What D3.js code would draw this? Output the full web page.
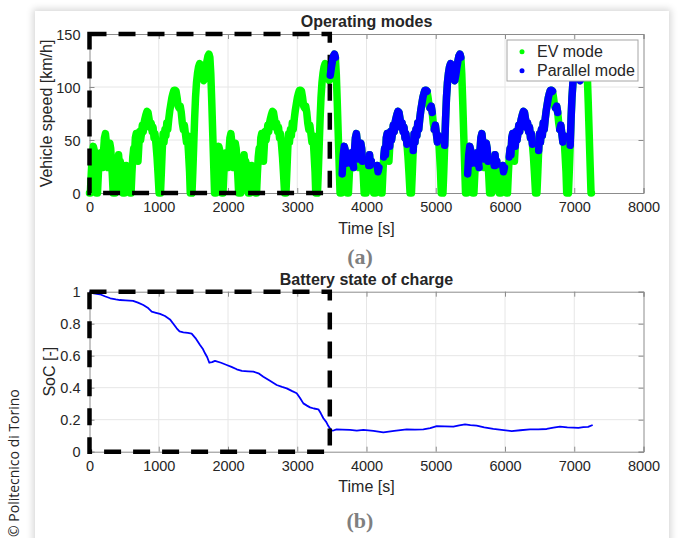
<!DOCTYPE html>
<html><head><meta charset="utf-8">
<script src="https://cdn.jsdelivr.net/npm/d3@7"></script>
<style>
html,body{margin:0;padding:0;background:#fff;width:678px;height:538px;overflow:hidden;}
#card{position:absolute;left:35px;top:11px;width:634px;height:560px;background:#fff;box-shadow:0 0 7px 2px rgba(0,0,0,0.16);}
svg{position:absolute;left:0;top:0;}
text{font-family:"Liberation Sans",Arial,sans-serif;fill:#262626;}
</style></head><body><div id="card"></div><svg id="chart" width="678" height="538"></svg>
<script>
// ---------- DATA ----------
const timeTicks = [0,1000,2000,3000,4000,5000,6000,7000,8000];
const speedTicks = [0,50,100,150];
const socTicks = [0,0.2,0.4,0.6,0.8,1];
const socTickLabels = ["0","0.2","0.4","0.6","0.8","1"];

// one repetition of the drive cycle (relative time [s], speed [km/h])
const cycleTime = [0,12,25,40,55,70,80,92,100,115,128,140,152,165,178,190,203,216,230,243,256,268,280,293,306,318,330,342,370,383,395,408,420,432,445,458,470,480,505,518,530,543,556,570,585,
  600,612,625,638,650,662,675,688,700,712,725,738,750,763,776,788,800,815,830,845,860,875,890,905,918,932,945,960,975,990,1005,1025,
  1038,1050,1063,1076,1090,1103,1116,1130,1145,1160,1175,1190,1205,1220,1235,1250,1265,1280,1295,1310,1325,1340,1355,1370,1385,1400,1415,1430,1445,1455,1480,
  1492,1505,1518,1531,1545,1560,1575,1590,1605,1620,1635,1650,1665,1680,1695,1710,1725,1738,1752,1766,1780,1794,1806,1812];
const cycleSpeed = [0,0,18,36,44,40,28,10,0,0,18,32,28,38,30,24,40,52,56,48,32,24,38,47,42,30,16,0,0,18,32,26,36,26,30,20,8,0,0,14,26,20,24,10,0,
  0,18,34,42,36,52,56,44,30,44,58,50,56,64,58,66,70,74,77,76,70,62,66,58,62,52,56,46,34,18,0,0,
  20,40,56,48,60,54,66,60,70,78,84,90,94,97,97,96,90,82,80,82,76,66,60,64,56,48,54,38,20,0,0,
  20,45,70,90,104,113,119,122,121,114,108,106,111,118,124,129,131,128,112,85,55,25,0,0];
// start time of each repetition
const cycleStarts = [0,1812,3624,5436];
// time spans [s] in which the parallel (hybrid) mode is active
const parallelIntervals = [[3470,3552],
  [3654,3704],[3762,3809],[3824,3884],[3899,3944],[4017,4064],[4152,4184],[4244,4314],[4332,4494],[4509,4584],[4672,4879],[4914,4944],[4974,5034],[5124,5364],
  [5466,5516],[5574,5621],[5636,5696],[5711,5756],[5829,5876],[5964,5996],[6056,6126],[6144,6306],[6321,6396],[6484,6691],[6726,6756],[6786,6846],[6936,7176]];
// end of charge-depleting phase (dashed box)
const depletingEnd = 3470;

// battery state of charge
const socTime = [0,60,150,230,300,380,440,520,629,700,777,840,898,960,1018,1090,1162,1210,1259,1300,1355,1420,1475,1530,1596,1640,1668,1700,1730,1770,1812,1900,1981,2050,2126,2200,2290,2366,2440,2510,2600,2703,2780,2848,2920,2992,3040,3088,3140,3184,3240,3305,3340,3377,3420,3449,3497,3530,3569,3650,3762,3860,3954,4100,4243,4400,4581,4700,4821,4920,5014,5130,5254,5340,5423,5500,5591,5700,5831,5950,6097,6220,6361,6480,6602,6700,6794,6900,6987,7060,7131,7200,7266];
const socValue = [1.0,0.99,0.984,0.97,0.959,0.952,0.948,0.946,0.943,0.932,0.917,0.9,0.875,0.868,0.861,0.848,0.827,0.8,0.771,0.752,0.746,0.742,0.738,0.71,0.667,0.64,0.615,0.59,0.556,0.56,0.568,0.556,0.542,0.53,0.515,0.505,0.502,0.5,0.49,0.469,0.445,0.417,0.405,0.396,0.38,0.365,0.335,0.302,0.288,0.277,0.27,0.265,0.24,0.209,0.185,0.16,0.131,0.134,0.14,0.138,0.136,0.132,0.136,0.13,0.121,0.13,0.14,0.138,0.14,0.148,0.16,0.158,0.157,0.165,0.171,0.166,0.163,0.152,0.142,0.136,0.129,0.134,0.14,0.139,0.142,0.15,0.157,0.152,0.151,0.149,0.153,0.155,0.167];

// ---------- DRAW ----------
const svg = d3.select("#chart");
const GREEN = "#00ff00", BLUE = "#0000ff";
const x = d3.scaleLinear().domain([0,8000]).range([89.5,643.5]);
const ySpeed = d3.scaleLinear().domain([0,150]).range([193,34]);
const ySoc = d3.scaleLinear().domain([0,1]).range([451.7,291.7]);

function frame(y, yTicks, yLabels, title, ylabel, ylabelX, xlabelY, tag, tagY) {
  const g = svg.append("g");
  const [y0,y1] = y.range();
  const x0 = x.range()[0], x1 = x.range()[1];
  g.selectAll(".gx").data(timeTicks.slice(1,-1)).join("line")
    .attr("x1", d=>x(d)).attr("x2", d=>x(d)).attr("y1", y0).attr("y2", y1)
    .attr("stroke","#e6e6e6").attr("stroke-width",1);
  g.selectAll(".gy").data(yTicks.slice(1,-1)).join("line")
    .attr("x1", x0).attr("x2", x1).attr("y1", d=>y(d)).attr("y2", d=>y(d))
    .attr("stroke","#e6e6e6").attr("stroke-width",1);
  const ax = g.append("g").attr("transform",`translate(0,${y0})`)
    .call(d3.axisBottom(x).tickValues(timeTicks).tickSize(-5).tickPadding(9).tickFormat(d3.format("d")));
  const axt = g.append("g").attr("transform",`translate(0,${y1})`)
    .call(d3.axisTop(x).tickValues(timeTicks).tickSize(-5).tickFormat(""));
  const ay = g.append("g").attr("transform",`translate(${x0},0)`)
    .call(d3.axisLeft(y).tickValues(yTicks).tickSize(-5).tickPadding(9).tickFormat((d,i)=>yLabels[i]));
  const ayr = g.append("g").attr("transform",`translate(${x1},0)`)
    .call(d3.axisRight(y).tickValues(yTicks).tickSize(-5).tickFormat(""));
  [ax,axt,ay,ayr].forEach(a=>{
    a.select(".domain").attr("stroke","#8c8c8c").attr("stroke-width",1);
    a.selectAll(".tick line").attr("stroke","#8c8c8c");
    a.selectAll(".tick text").attr("fill","#262626").style("font-size","14.5px").style("font-family","'Liberation Sans',Arial,sans-serif");
  });
  ax.selectAll(".tick text").attr("dy","0.71em");
  ay.selectAll(".tick text").attr("dy","0.35em");
  svg.append("text").attr("x",366.5).attr("y",y1-7).attr("text-anchor","middle")
    .style("font-size","16px").style("font-weight","bold").attr("fill","#000").text(title);
  svg.append("text").attr("x",366.5).attr("y",xlabelY).attr("text-anchor","middle")
    .style("font-size","16px").text("Time [s]");
  svg.append("text").attr("transform",`translate(${ylabelX},${(y0+y1)/2}) rotate(-90)`)
    .attr("text-anchor","middle").style("font-size","16px").text(ylabel);
  svg.append("text").attr("x",360).attr("y",tagY).attr("text-anchor","middle")
    .style("font-family","'Liberation Serif','Times New Roman',serif").style("font-size","22px")
    .style("font-weight","bold").style("fill","#7f7f7f").text(tag);
}

frame(ySpeed, speedTicks, speedTicks.map(String), "Operating modes", "Vehicle speed [km/h]", 52, 234, "(a)", 264);
frame(ySoc, socTicks, socTickLabels, "Battery state of charge", "SoC [-]", 55, 492, "(b)", 528);

const speedData = [];
cycleStarts.forEach(s=>{
  cycleTime.forEach((t,i)=>{
    const tt = s + t;
    if (speedData.length && speedData[speedData.length-1].t === tt) return;
    speedData.push({t:tt, v:cycleSpeed[i]});
  });
});
const inParallel = t => parallelIntervals.some(([a,b]) => t>=a && t<=b);
const lineS = d3.line().x(d=>x(d.t)).y(d=>ySpeed(d.v));
svg.append("path").attr("d", lineS(speedData)).attr("fill","none").attr("stroke",GREEN)
  .attr("stroke-width",7.5).attr("stroke-linejoin","round").attr("stroke-linecap","round");

function dashBox(y) {
  const [y0,y1] = y.range();
  svg.append("path")
    .attr("d", `M${x(0)},${y1}L${x(depletingEnd)},${y1}L${x(depletingEnd)},${y0}L${x(0)},${y0}Z`)
    .attr("fill","none").attr("stroke","#000").attr("stroke-width",4.5).attr("stroke-dasharray","17,12");
}
dashBox(ySpeed);

let runs = [], cur = null;
for (let i=0;i<speedData.length-1;i++){
  const a = speedData[i], b = speedData[i+1];
  if (inParallel((a.t+b.t)/2)) {
    if (!cur) { cur=[a]; runs.push(cur); }
    cur.push(b);
  } else cur = null;
}
svg.selectAll(".blue").data(runs).join("path").attr("d", d=>lineS(d)).attr("fill","none")
  .attr("stroke",BLUE).attr("stroke-width",7.5).attr("stroke-linejoin","round").attr("stroke-linecap","round");

const lg = svg.append("g");
lg.append("rect").attr("x",507).attr("y",40).attr("width",131).attr("height",41).attr("fill","#fff").attr("stroke","#a6a6a6");
[["EV mode",GREEN,51.7],["Parallel mode",BLUE,70.8]].forEach(([t,c,yy])=>{
  lg.append("circle").attr("cx",522).attr("cy",yy).attr("r",2.5).attr("fill",c);
  lg.append("text").attr("x",537).attr("y",yy).attr("dy","0.35em").style("font-size","16px").attr("fill","#000").text(t);
});

const socData = socTime.map((t,i)=>({t, v:socValue[i]}));
svg.append("path").attr("d", d3.line().x(d=>x(d.t)).y(d=>ySoc(d.v))(socData))
  .attr("fill","none").attr("stroke",BLUE).attr("stroke-width",1.8).attr("stroke-linejoin","round");
dashBox(ySoc);

svg.append("text").attr("transform","translate(19,537) rotate(-90)")
  .style("font-family","'Open Sans',sans-serif").style("font-size","14px").attr("fill","#404040")
  .text("© Politecnico di Torino");
</script></body></html>
